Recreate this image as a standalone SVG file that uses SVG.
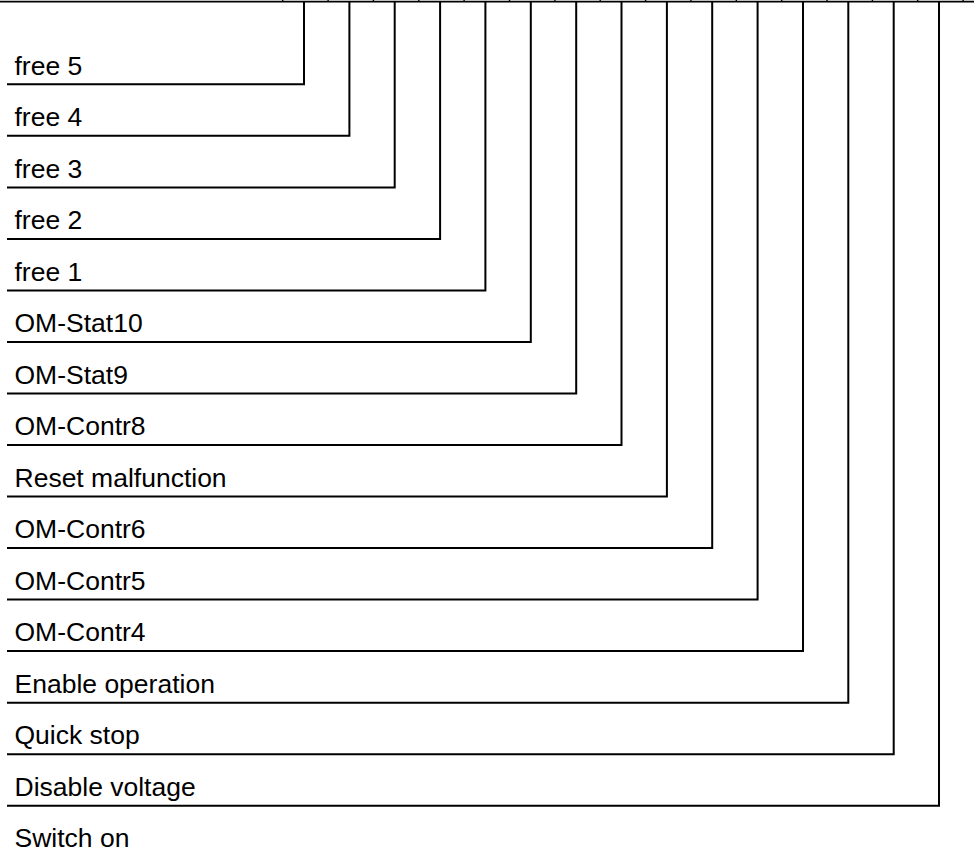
<svg xmlns="http://www.w3.org/2000/svg" width="974" height="852" viewBox="0 0 974 852">
  <style>
    .lbl { font-family: "Liberation Sans", Arial, Helvetica, sans-serif; font-size: 26.5px; fill: #000; }
    .wire { fill: none; stroke: #000; stroke-width: 2; stroke-linejoin: miter; stroke-linecap: square; }
    .top { stroke: #000; stroke-width: 1.6; }
    .tick { stroke: #000; stroke-width: 1.4; }
  </style>
  <rect width="974" height="852" fill="#fff"/>

  <!-- upper edge of the bit table with its cell dividers -->
  <g id="bit-table-edge">
    <line class="top" x1="0" y1="1.6" x2="974" y2="1.6"/>
    <g class="tick">
      <line x1="282.7" y1="0" x2="282.7" y2="2"/>
      <line x1="328.1" y1="0" x2="328.1" y2="2"/>
      <line x1="373.4" y1="0" x2="373.4" y2="2"/>
      <line x1="418.8" y1="0" x2="418.8" y2="2"/>
      <line x1="464.1" y1="0" x2="464.1" y2="2"/>
      <line x1="509.5" y1="0" x2="509.5" y2="2"/>
      <line x1="554.9" y1="0" x2="554.9" y2="2"/>
      <line x1="600.2" y1="0" x2="600.2" y2="2"/>
      <line x1="645.6" y1="0" x2="645.6" y2="2"/>
      <line x1="690.9" y1="0" x2="690.9" y2="2"/>
      <line x1="736.3" y1="0" x2="736.3" y2="2"/>
      <line x1="781.7" y1="0" x2="781.7" y2="2"/>
      <line x1="827.0" y1="0" x2="827.0" y2="2"/>
      <line x1="872.4" y1="0" x2="872.4" y2="2"/>
      <line x1="917.7" y1="0" x2="917.7" y2="2"/>
      <line x1="963.1" y1="0" x2="963.1" y2="2"/>
    </g>
  </g>

  <!-- leader lines from each bit down to its label -->
  <g id="connectors">
    <path class="wire" d="M304.0 2V84.3H8"/>
    <path class="wire" d="M349.4 2V135.8H8"/>
    <path class="wire" d="M394.7 2V187.4H8"/>
    <path class="wire" d="M440.1 2V238.9H8"/>
    <path class="wire" d="M485.4 2V290.4H8"/>
    <path class="wire" d="M530.8 2V342.0H8"/>
    <path class="wire" d="M576.2 2V393.5H8"/>
    <path class="wire" d="M621.5 2V445.0H8"/>
    <path class="wire" d="M666.9 2V496.5H8"/>
    <path class="wire" d="M712.2 2V548.1H8"/>
    <path class="wire" d="M757.6 2V599.6H8"/>
    <path class="wire" d="M803.0 2V651.1H8"/>
    <path class="wire" d="M848.3 2V702.7H8"/>
    <path class="wire" d="M893.7 2V754.2H8"/>
    <path class="wire" d="M939.0 2V805.7H8"/>
  </g>

  <!-- bit labels -->
  <g id="bit15"><text class="lbl" x="14.5" y="74.5">free 5</text></g>
  <g id="bit14"><text class="lbl" x="14.5" y="126.0">free 4</text></g>
  <g id="bit13"><text class="lbl" x="14.5" y="177.6">free 3</text></g>
  <g id="bit12"><text class="lbl" x="14.5" y="229.1">free 2</text></g>
  <g id="bit11"><text class="lbl" x="14.5" y="280.6">free 1</text></g>
  <g id="bit10"><text class="lbl" x="14.5" y="332.2">OM-Stat10</text></g>
  <g id="bit9"><text class="lbl" x="14.5" y="383.7">OM-Stat9</text></g>
  <g id="bit8"><text class="lbl" x="14.5" y="435.2">OM-Contr8</text></g>
  <g id="bit7"><text class="lbl" x="14.5" y="486.7">Reset malfunction</text></g>
  <g id="bit6"><text class="lbl" x="14.5" y="538.3">OM-Contr6</text></g>
  <g id="bit5"><text class="lbl" x="14.5" y="589.8">OM-Contr5</text></g>
  <g id="bit4"><text class="lbl" x="14.5" y="641.3">OM-Contr4</text></g>
  <g id="bit3"><text class="lbl" x="14.5" y="692.9">Enable operation</text></g>
  <g id="bit2"><text class="lbl" x="14.5" y="744.4">Quick stop</text></g>
  <g id="bit1"><text class="lbl" x="14.5" y="795.9">Disable voltage</text></g>
  <g id="bit0"><text class="lbl" x="14.5" y="847.4">Switch on</text></g>
</svg>
